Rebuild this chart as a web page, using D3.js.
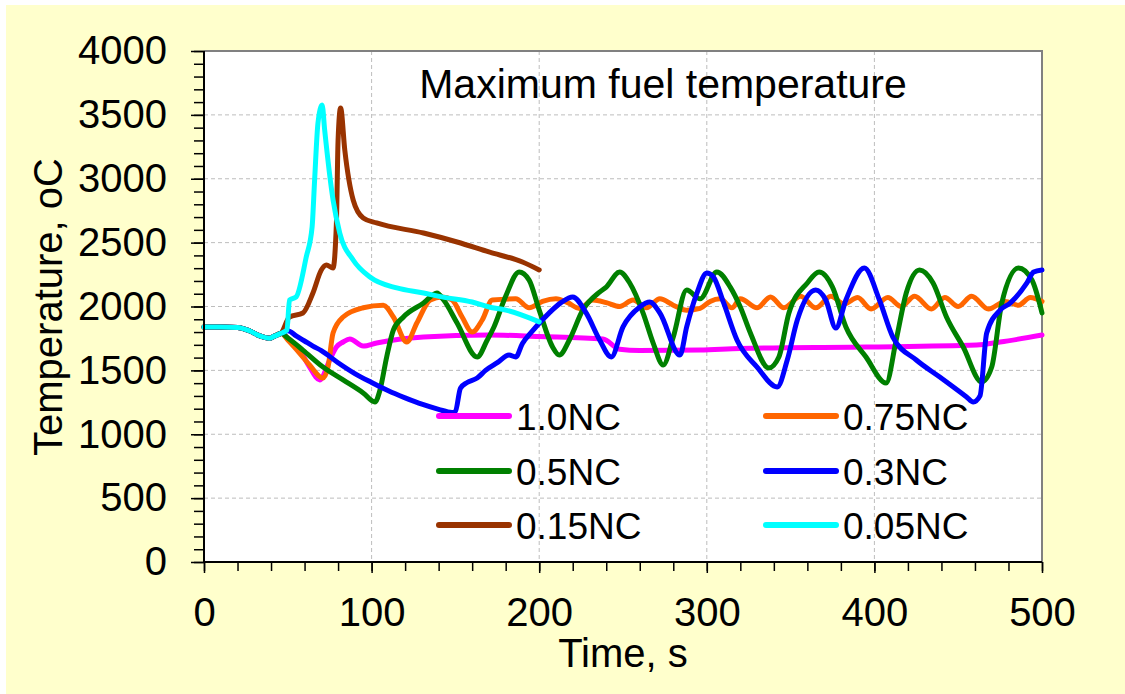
<!DOCTYPE html>
<html>
<head>
<meta charset="utf-8">
<script src="https://cdn.jsdelivr.net/npm/d3@7"></script>
<style>
  body { margin: 0; background: #fff; }
  svg { display: block; font-family: "Liberation Sans", Arial, sans-serif; }
</style>
</head>
<body>
<div id="chart"></div>
<script>
// common start (all cases overlap until ~46 s)
var base = [[0,1840],[10,1840],[20,1836],[27,1810],[33,1772],[39,1752],[42,1768],[46,1790]];

var nc100 = [[50,1753],[57,1659],[63,1526],[69,1425],[75,1581],[79,1683],[83,1722],[87,1745],[95,1690],[103,1714],
  [131,1761],[170,1777],[200,1765],[238,1745],[248,1665],[260,1655],[296,1659],[320,1672],[395,1683],[461,1698],
  [475,1722],[500,1777]];
var nc075 = [[50,1738],[57,1636],[63,1542],[71,1440],[74,1526],[77,1793],[83,1918],[95,1990],[107,2010],[113,1918],
  [121,1722],[127,1871],[135,2051],[142,2075],[148,2051],[154,1918],[160,1800],[166,1894],[172,2051],[186,2060],
  [194,1990],[202,2040],[210,2060],[217,2030],[224,1985],[232,2050],[240,2030],[248,2000],[256,2050],[264,1990],
  [272,2060],[280,2010],[288,1970],[296,1985],[302,2040],[308,2060],[315,1990],[320,2060],[330,1990],[338,2075],
  [346,1990],[356,2080],[365,1990],[374,2080],[382,2020],[390,2070],[398,1980],[408,2070],[416,2000],[424,2080],
  [434,1980],[442,2070],[450,2000],[458,2080],[468,1980],[478,2040],[486,2010],[493,2070],[500,2040]];
var nc050 = [[50,1753],[59,1659],[71,1526],[83,1425],[95,1323],[102,1252],[105,1346],[109,1605],[113,1816],[119,1918],
  [131,2027],[139,2106],[143,2051],[151,1871],[163,1605],[169,1738],[173,1840],[180,2080],[188,2270],[194,2207],
  [200,1972],[208,1683],[212,1620],[218,1738],[226,1972],[236,2113],[240,2152],[248,2270],[254,2184],[262,1949],
  [268,1714],[274,1542],[280,1761],[288,2129],[296,2060],[306,2270],[314,2152],[320,1996],[326,1793],[337,1519],
  [343,1605],[349,1949],[360,2184],[367,2270],[375,2152],[383,1840],[395,1605],[407,1401],[413,1738],[419,2106],
  [427,2286],[435,2184],[443,1918],[453,1683],[464,1409],[470,1526],[476,2027],[486,2301],[494,2207],[500,1949]];
var nc030 = [[50,1810],[55,1770],[60,1730],[65,1690],[70,1655],[80,1560],[90,1475],[100,1405],[110,1340],[120,1285],
  [130,1235],[140,1195],[148,1170],[150,1178],[153,1360],[157,1405],[163,1440],[168,1500],[175,1560],[182,1620],
  [186,1605],[190,1710],[196,1810],[206,1950],[213,2030],[220,2075],[228,1950],[236,1740],[243,1605],[250,1840],
  [260,1996],[266,2035],[272,1949],[284,1620],[288,1840],[294,2100],[300,2262],[304,2230],[310,2030],[318,1738],
  [330,1526],[342,1370],[348,1581],[354,1894],[365,2129],[371,2051],[377,1832],[383,2051],[394,2301],[403,2051],
  [411,1761],[425,1581],[439,1448],[455,1292],[459,1252],[463,1300],[467,1793],[475,1972],[481,2027],[491,2184],
  [495,2270],[500,2286]];
var nc015 = [[51,1918],[59,1949],[65,2106],[70,2286],[73,2325],[77,2301],[79,2654],[80,3303],[81.5,3554],[84,3225],
  [89,2834],[95,2693],[103,2654],[131,2575],[151,2505],[170,2427],[190,2348],[200,2286]];
var nc005 = [[49.5,1816],[51,2050],[55,2075],[61,2387],[64.5,2622],[66,2990],[68,3436],[70.5,3577],[72,3381],[77,2834],
  [81,2575],[89,2364],[99,2231],[115,2145],[131,2106],[142,2075],[160,2035],[170,1996],[180,1972],[200,1880]];

var names = ["1.0NC", "0.75NC", "0.5NC", "0.3NC", "0.15NC", "0.05NC"];
var colors = ["#ff00ff", "#ff6600", "#008000", "#0000ff", "#993300", "#00ffff"];
var series = [nc100, nc075, nc050, nc030, nc015, nc005];

var xTicks = [0, 100, 200, 300, 400, 500];
var yTicks = [0, 500, 1000, 1500, 2000, 2500, 3000, 3500, 4000];

var W = 1125, H = 694;
var svg = d3.select("#chart").append("svg").attr("width", W).attr("height", H);
var margin = {top: 51, left: 204, right: 1042, bottom: 562};

svg.append("rect").attr("x", 6).attr("y", 5).attr("width", W - 6).attr("height", H - 5).attr("fill", "#ffffcc");
svg.append("rect").attr("x", margin.left).attr("y", margin.top)
  .attr("width", margin.right - margin.left).attr("height", margin.bottom - margin.top).attr("fill", "#fff");

var x = d3.scaleLinear().domain([0, 500]).range([margin.left, margin.right]);
var y = d3.scaleLinear().domain([0, 4000]).range([margin.bottom, margin.top]);

// grid
var grid = svg.append("g");
grid.selectAll(".gx").data(xTicks.slice(1, -1)).enter().append("line")
  .attr("x1", d => x(d)).attr("x2", d => x(d)).attr("y1", margin.top).attr("y2", margin.bottom)
  .attr("stroke", "#bdbdbd").attr("stroke-width", 1).attr("stroke-dasharray", "4,3");
grid.selectAll(".gy").data(yTicks.slice(1, -1)).enter().append("line")
  .attr("y1", d => y(d)).attr("y2", d => y(d)).attr("x1", margin.left).attr("x2", margin.right)
  .attr("stroke", "#bdbdbd").attr("stroke-width", 1).attr("stroke-dasharray", "4,3");

// border top/right
svg.append("path")
  .attr("d", "M" + margin.left + "," + margin.top + "H" + margin.right + "V" + margin.bottom)
  .attr("fill", "none").attr("stroke", "#808080").attr("stroke-width", 2);

// lines
var line = d3.line().x(d => x(d[0])).y(d => y(d[1])).curve(d3.curveMonotoneX);
var g = svg.append("g");
series.forEach(function(s, i) {
  var pts = base.concat(s);
  g.append("path").datum(pts).attr("d", line)
    .attr("fill", "none").attr("stroke", colors[i]).attr("stroke-width", 5)
    .attr("stroke-linejoin", "round").attr("stroke-linecap", "round");
});

// axes
var yMinor = d3.axisLeft(y).tickValues(d3.range(0, 4001, 100)).tickSize(10).tickFormat("");
var yMajor = d3.axisLeft(y).tickValues(yTicks).tickSize(13).tickPadding(24).tickFormat(d3.format("d"));
var xMinor = d3.axisBottom(x).tickValues(d3.range(0, 501, 20)).tickSize(9).tickFormat("");
var xMajor = d3.axisBottom(x).tickValues(xTicks).tickSize(11).tickPadding(25).tickFormat(d3.format("d"));

[yMinor, yMajor].forEach(function(a) {
  var ga = svg.append("g").attr("transform", "translate(" + margin.left + ",0)").call(a);
  ga.select(".domain").remove();
  ga.selectAll("line").attr("stroke", "#000").attr("stroke-width", 1.5);
  ga.selectAll("text").attr("font-size", 40).attr("fill", "#000")
    .attr("font-family", "Liberation Sans, Arial, sans-serif");
});
[xMinor, xMajor].forEach(function(a) {
  var ga = svg.append("g").attr("transform", "translate(0," + margin.bottom + ")").call(a);
  ga.select(".domain").remove();
  ga.selectAll("line").attr("stroke", "#000").attr("stroke-width", 1.5);
  ga.selectAll("text").attr("font-size", 40).attr("fill", "#000")
    .attr("font-family", "Liberation Sans, Arial, sans-serif");
});
svg.append("path")
  .attr("d", "M" + margin.left + "," + margin.top + "V" + margin.bottom + "H" + margin.right)
  .attr("fill", "none").attr("stroke", "#000").attr("stroke-width", 2);

// titles
svg.append("text").attr("x", 663).attr("y", 98).attr("text-anchor", "middle")
  .attr("font-size", 41).text("Maximum fuel temperature");
svg.append("text").attr("x", 623).attr("y", 667).attr("text-anchor", "middle")
  .attr("font-size", 40).text("Time, s");
svg.append("text").attr("transform", "translate(62,307) rotate(-90)").attr("text-anchor", "middle")
  .attr("font-size", 40).text("Temperature, oC");

// legend
var legX = [439, 766], legY = [416, 471, 525];
names.forEach(function(n, i) {
  var lx = legX[i % 2], ly = legY[Math.floor(i / 2)];
  svg.append("line").attr("x1", lx).attr("x2", lx + 70).attr("y1", ly).attr("y2", ly)
    .attr("stroke", colors[i]).attr("stroke-width", 6).attr("stroke-linecap", "round");
  svg.append("text").attr("x", lx + 77).attr("y", ly + 13.5).attr("font-size", 37).text(n);
});
</script>
</body>
</html>
